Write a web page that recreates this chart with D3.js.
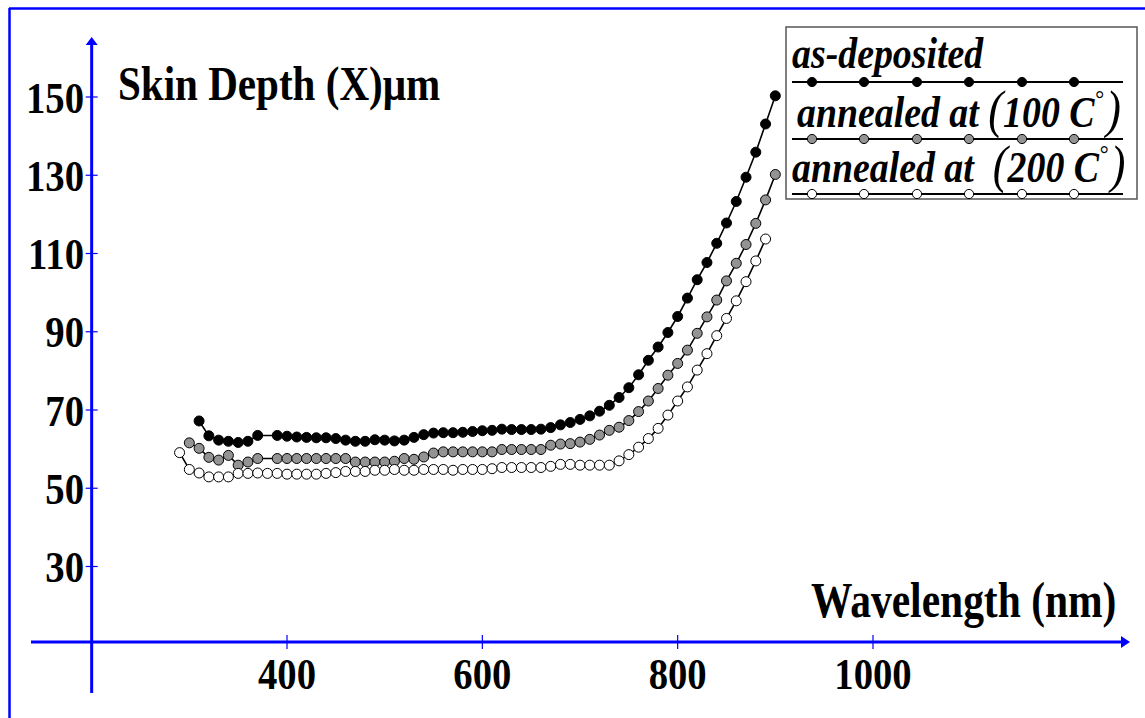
<!DOCTYPE html>
<html>
<head>
<meta charset="utf-8">
<script src="https://d3js.org/d3.v7.min.js"></script>
<style>
body { margin: 0; background: #fff; }
text { font-family: "Liberation Serif", "Times New Roman", serif; font-weight: bold; white-space: pre; }
</style>
</head>
<body>
<svg width="1145" height="718"></svg>
<script>
// wavelength grid (nm), one value per 10 nm; null = no marker
var wavelengths = [290,300,310,320,330,340,350,360,370,380,
  390,400,410,420,430,440,450,460,470,480,
  490,500,510,520,530,540,550,560,570,580,
  590,600,610,620,630,640,650,660,670,680,
  690,700,710,720,730,740,750,760,770,780,
  790,800,810,820,830,840,850,860,870,880,
  890,900];

var asDeposited = [null,null,67.2,63.4,62.3,62.0,61.7,62.0,63.5,null,
  63.5,63.3,63.1,63.0,62.9,62.9,62.7,62.3,62.0,62.0,
  62.4,62.3,62.1,62.3,63.0,63.7,64.1,64.2,64.2,64.3,
  64.5,64.7,64.8,65.1,65.0,65.0,65.0,65.1,65.5,66.2,
  66.8,67.6,68.5,69.7,71.2,73.2,75.7,79.0,82.7,86.1,
  89.8,93.9,98.6,103.3,107.7,112.6,117.8,123.3,129.5,135.9,
  143.1,150.3];

var annealed100 = [null,61.6,60.2,57.9,57.2,58.4,55.9,56.7,57.6,null,
  57.6,57.6,57.6,57.6,57.6,57.6,57.6,57.6,56.7,56.7,
  56.7,56.7,56.9,57.6,57.4,58.0,59.0,59.3,59.3,59.3,
  59.3,59.3,59.3,59.9,59.9,59.9,59.9,59.9,61.0,61.3,
  61.4,61.8,62.5,63.6,64.8,65.6,67.3,69.6,72.3,75.5,
  78.9,81.9,85.3,89.6,93.8,98.1,103.0,107.5,112.3,117.7,
  123.7,130.2];

var annealed200 = [59.1,54.8,53.9,52.9,52.9,52.9,53.8,53.8,53.9,53.8,
  53.8,53.6,53.6,53.6,53.6,53.8,54.0,54.3,54.3,54.3,
  54.6,54.6,54.8,54.6,54.6,54.8,54.8,54.8,54.6,54.8,
  54.8,54.8,55.0,55.3,55.3,55.3,55.3,55.3,55.6,56.1,
  56.1,55.9,55.9,55.9,55.9,57.0,58.6,60.5,62.7,65.3,
  68.7,72.3,75.9,80.2,84.4,89.0,93.4,97.9,102.8,108.1,
  113.7,null];

var seriesNames = ["as-deposited", "annealed at ", "annealed at  "];
var seriesTemps = [null, "100 C", "200 C"];
var seriesFill = ["#000000", "#939393", "#ffffff"];
var xTicks = [400, 600, 800, 1000];
var yTicks = [30, 50, 70, 90, 110, 130, 150];

var svg = d3.select("svg");
var blue = "#0000ff";

var x = d3.scaleLinear().domain([400, 1000]).range([287, 873]);
var y = d3.scaleLinear().domain([30, 150]).range([566.5, 97]);
var axisX = x(200);
var axisY = 642;

// outer frame
svg.append("line").attr("x1", 9).attr("y1", 8.5).attr("x2", 1145).attr("y2", 8.5)
  .attr("stroke", blue).attr("stroke-width", 2.5);
svg.append("line").attr("x1", 9.5).attr("y1", 8).attr("x2", 9.5).attr("y2", 718)
  .attr("stroke", blue).attr("stroke-width", 2.5);

// axes
svg.append("line").attr("x1", axisX).attr("y1", 42).attr("x2", axisX).attr("y2", 693)
  .attr("stroke", blue).attr("stroke-width", 3);
svg.append("path").attr("d", "M" + axisX + ",37 L" + (axisX - 6) + ",45 L" + (axisX + 6) + ",45 Z")
  .attr("fill", blue);
svg.append("line").attr("x1", 31).attr("y1", axisY).attr("x2", 1124).attr("y2", axisY)
  .attr("stroke", blue).attr("stroke-width", 3);
svg.append("path").attr("d", "M1130," + axisY + " L1121," + (axisY - 6) + " L1121," + (axisY + 6) + " Z")
  .attr("fill", blue);

yTicks.forEach(function(t) {
  svg.append("line").attr("x1", axisX - 6).attr("x2", axisX + 6)
    .attr("y1", y(t)).attr("y2", y(t)).attr("stroke", blue).attr("stroke-width", 1.2);
  svg.append("g").attr("transform", "translate(84," + (y(t) + 15.5) + ") scale(0.88,1)")
    .append("text").text(t).attr("text-anchor", "end").style("font-size", "44px");
});
xTicks.forEach(function(t) {
  svg.append("line").attr("x1", x(t)).attr("x2", x(t))
    .attr("y1", axisY - 7).attr("y2", axisY + 7).attr("stroke", blue).attr("stroke-width", 1.2);
  svg.append("g").attr("transform", "translate(" + x(t) + ",689) scale(0.86,1)")
    .append("text").text(t).attr("text-anchor", "middle").style("font-size", "45px");
});

// axis titles
svg.append("g").attr("transform", "translate(118,100) scale(0.856,1)")
  .append("text").text("Skin Depth (X)\u03bcm").style("font-size", "48px");
svg.append("g").attr("transform", "translate(811,617) scale(0.83,1)")
  .append("text").text("Wavelength (nm)").style("font-size", "50px");

// data series
var line = d3.line().x(function(d) { return x(d.w); }).y(function(d) { return y(d.v); });
[asDeposited, annealed100, annealed200].forEach(function(vals, i) {
  var pts = wavelengths.map(function(w, j) { return {w: w, v: vals[j]}; })
    .filter(function(d) { return d.v != null; });
  svg.append("path").datum(pts).attr("d", line)
    .attr("fill", "none").attr("stroke", "#000").attr("stroke-width", 1.6);
  svg.selectAll(null).data(pts).enter().append("circle")
    .attr("cx", function(d) { return x(d.w); })
    .attr("cy", function(d) { return y(d.v); })
    .attr("r", 5)
    .attr("fill", seriesFill[i])
    .attr("stroke", "#000").attr("stroke-width", 1);
});

// legend
svg.append("rect").attr("x", 786).attr("y", 27).attr("width", 351).attr("height", 172)
  .attr("fill", "#fff").attr("stroke", "#555").attr("stroke-width", 1.5);
var legTextY = [68, 127, 182];
var legTextX = [792, 797, 792];
var legLineY = [82, 139, 194];
var legMarkX = [812, 864, 917, 969, 1022, 1074];
seriesNames.forEach(function(name, i) {
  var g = svg.append("g").attr("transform", "translate(" + legTextX[i] + "," + legTextY[i] + ") scale(0.86,1)");
  var t = g.append("text").style("font-size", "44px").style("font-style", "italic");
  t.append("tspan").text(name);
  if (seriesTemps[i]) {
    t.append("tspan").text("(").style("font-size", "52px").style("font-weight", "normal");
    t.append("tspan").text(seriesTemps[i]);
    t.append("tspan").text("\u00b0").attr("dy", -20).style("font-size", "26px").style("font-weight", "normal");
    t.append("tspan").text(")").attr("dy", 20).attr("dx", 3).style("font-size", "52px").style("font-weight", "normal");
  }
  svg.append("line").attr("x1", 792).attr("x2", 1123).attr("y1", legLineY[i]).attr("y2", legLineY[i])
    .attr("stroke", "#000").attr("stroke-width", 2);
  legMarkX.forEach(function(mx) {
    svg.append("circle").attr("cx", mx).attr("cy", legLineY[i]).attr("r", 4.6)
      .attr("fill", seriesFill[i]).attr("stroke", "#000").attr("stroke-width", 1);
  });
});
</script>
</body>
</html>
